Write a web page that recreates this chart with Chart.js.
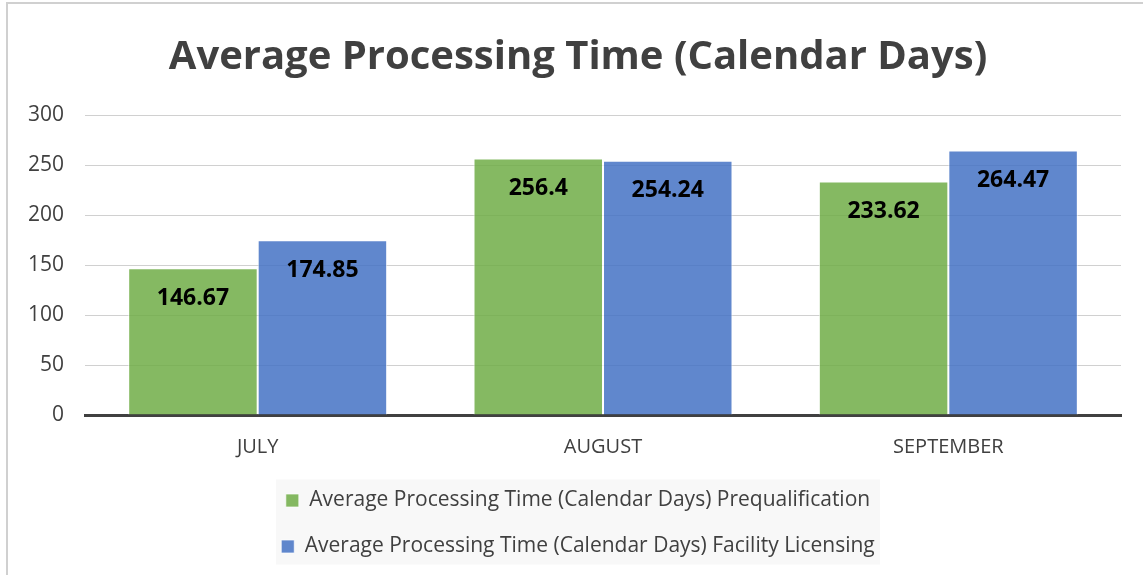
<!DOCTYPE html>
<html>
<head>
<meta charset="utf-8">
<script src="https://cdn.jsdelivr.net/npm/chart.js@4"></script>
<style>
body{margin:0;background:#fff;}
#wrap{position:relative;width:1143px;height:575px;}
#frame{position:absolute;left:6px;top:2px;width:1200px;height:700px;border-left:2px solid #d0d0d0;border-top:2px solid #d0d0d0;pointer-events:none;}
</style>
</head>
<body>
<div id="wrap">
<canvas id="procChart" width="1143" height="575"></canvas>
<div id="frame"></div>
</div>
<script>
// Average processing time per month
const months = ['JULY', 'AUGUST', 'SEPTEMBER'];
const prequal = [146.67, 256.4, 233.62];
const licensing = [174.85, 254.24, 264.47];
const seriesNames = [
  'Average Processing Time (Calendar Days) Prequalification',
  'Average Processing Time (Calendar Days) Facility Licensing'
];
const yTicks = [0, 50, 100, 150, 200, 250, 300];

const fontFam = "'Open Sans', sans-serif";
const legendPad = 25;
const legendFont = 21;

// value labels inside the top of each bar
const barLabels = {
  id: 'barLabels',
  afterDatasetsDraw(chart) {
    const ctx = chart.ctx;
    ctx.save();
    ctx.font = "bold 23px " + fontFam;
    ctx.fillStyle = '#000';
    ctx.textAlign = 'center';
    ctx.textBaseline = 'middle';
    chart.data.datasets.forEach((ds, i) => {
      chart.getDatasetMeta(i).data.forEach((bar, j) => {
        ctx.fillText(ds.data[j], bar.x, bar.y + 30);
      });
    });
    ctx.restore();
  }
};

// nudge title + legend right a bit and paint the legend's light grey box
const legendBg = {
  id: 'legendBg',
  afterLayout(chart) {
    chart.legend.left += 14;
    chart.legend.right += 14;
    chart.titleBlock.left += 14;
    chart.titleBlock.right += 14;
  },
  beforeDraw(chart) {
    const lg = chart.legend;
    const ctx = chart.ctx;
    const row1 = lg.top + legendPad + legendFont / 2;
    const cx = (lg.left + lg.right) / 2;
    ctx.save();
    ctx.fillStyle = '#ffffff';
    ctx.fillRect(0, 0, chart.width, chart.height);
    ctx.fillStyle = '#f8f8f8';
    ctx.fillRect(cx - 302, row1 - 21, 604, 85);
    ctx.restore();
  }
};

new Chart(document.getElementById('procChart'), {
  type: 'bar',
  data: {
    labels: months,
    datasets: [{
      label: seriesNames[0],
      data: prequal,
      backgroundColor: 'rgba(112,173,71,0.85)',
      borderColor: 'rgba(255,255,255,0.7)',
      borderWidth: 1
    }, {
      label: seriesNames[1],
      data: licensing,
      backgroundColor: 'rgba(68,114,196,0.85)',
      borderColor: 'rgba(255,255,255,0.7)',
      borderWidth: 1
    }]
  },
  options: {
    responsive: false,
    animation: false,
    categoryPercentage: 0.75,
    barPercentage: 1,
    layout: {padding: {left: 7, right: 22, top: 8, bottom: 8}},
    plugins: {
      title: {
        display: true,
        text: 'Average Processing Time (Calendar Days)',
        color: '#404040',
        font: {family: fontFam, size: 40, weight: 'bold'},
        padding: {top: 26, bottom: 33}
      },
      legend: {
        position: 'bottom',
        labels: {
          color: '#404040',
          font: {family: fontFam, size: legendFont},
          boxWidth: 13,
          boxHeight: 13,
          padding: legendPad
        }
      },
      tooltip: {enabled: false}
    },
    scales: {
      x: {
        grid: {display: false, drawTicks: true, tickLength: 14},
        border: {display: true, color: '#404040', width: 3},
        ticks: {color: '#404040', font: {family: fontFam, size: 20}, padding: 6}
      },
      y: {
        min: 0,
        max: 300,
        afterBuildTicks(axis) { axis.ticks = yTicks.map(v => ({value: v})); },
        grid: {color: '#d0d0d0', drawTicks: false},
        border: {display: false},
        ticks: {color: '#404040', font: {family: fontFam, size: 21}, padding: 21}
      }
    }
  },
  plugins: [legendBg, barLabels]
});
</script>
</body>
</html>
